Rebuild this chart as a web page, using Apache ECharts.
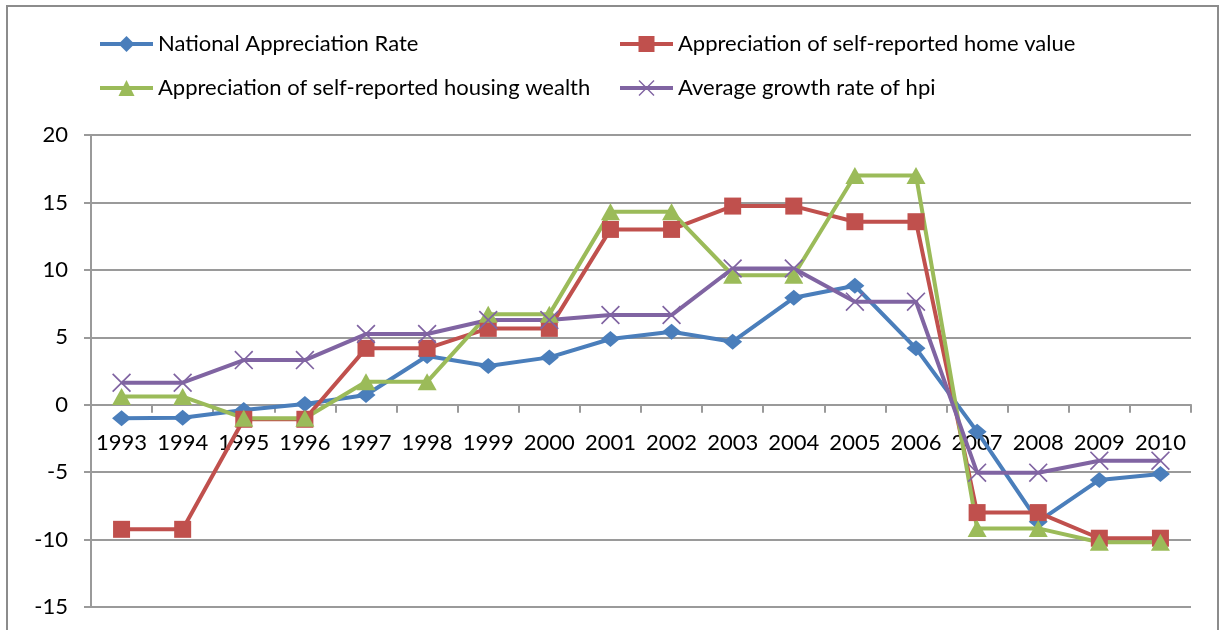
<!DOCTYPE html>
<html>
<head>
<meta charset="utf-8">
<script src="https://cdn.jsdelivr.net/npm/echarts@6/dist/echarts.min.js"></script>
<style>
  html, body { margin: 0; padding: 0; background: #fff; }
  #chart { width: 1224px; height: 630px; }
</style>
</head>
<body>
<div id="chart"></div>
<script>
// data
var years = ['1993', '1994', '1995', '1996', '1997', '1998', '1999', '2000', '2001',
             '2002', '2003', '2004', '2005', '2006', '2007', '2008', '2009', '2010'];
var nationalRate = [-1.0, -0.96, -0.4, 0.05, 0.72, 3.61, 2.87, 3.51, 4.87,
                    5.41, 4.67, 7.93, 8.82, 4.18, -2.0, -8.67, -5.58, -5.14];
var homeValue = [-9.24, -9.24, -1.08, -1.08, 4.18, 4.18, 5.66, 5.66, 13.0,
                 13.0, 14.73, 14.73, 13.57, 13.57, -8.0, -8.0, -9.9, -9.9];
var housingWealth = [0.6, 0.6, -1.0, -1.0, 1.7, 1.7, 6.7, 6.7, 14.3,
                     14.3, 9.6, 9.6, 17.0, 17.0, -9.17, -9.17, -10.2, -10.2];
var hpiGrowth = [1.63, 1.63, 3.31, 3.31, 5.24, 5.24, 6.28, 6.28, 6.65,
                 6.65, 10.1, 10.1, 7.64, 7.64, -5.04, -5.04, -4.15, -4.15];
var seriesNames = ['National Appreciation Rate', 'Appreciation of self-reported home value',
                   'Appreciation of self-reported housing wealth', 'Average growth rate of hpi'];

var font = 'Lato, "Liberation Sans", sans-serif';
var gridGray = '#9a9a9a';
var crossPath = 'path://M0,1L1,0L8,7L15,0L16,1L9,8L16,15L15,16L8,9L1,16L0,15L7,8Z';

var chart = echarts.init(document.getElementById('chart'));

function lineSeries(name, data, color, symbol, size) {
    return {
        name: name,
        type: 'line',
        data: data,
        xAxisIndex: 0,
        symbol: symbol,
        symbolSize: size,
        showAllSymbol: true,
        lineStyle: { color: color, width: 4 },
        itemStyle: { color: color },
        emphasis: { disabled: true },
        animation: false
    };
}

var legendCommon = {
    orient: 'vertical',
    top: 33,
    padding: 0,
    itemWidth: 53,
    itemHeight: 20,
    itemGap: 22,
    lineStyle: { width: 4 },
    textStyle: { fontFamily: font, fontSize: 22, color: '#000' },
    selectedMode: false
};

var option = {
    backgroundColor: '#fff',
    graphic: [{
        type: 'rect',
        shape: { x: 7, y: 6, width: 1211, height: 700 },
        style: { fill: 'none', stroke: '#8c8c8c', lineWidth: 2 },
        silent: true
    }],
    legend: [
        Object.assign({ left: 98, data: [seriesNames[0], seriesNames[2]] }, legendCommon),
        Object.assign({ left: 618, data: [seriesNames[1], seriesNames[3]] }, legendCommon)
    ],
    grid: { left: 91, right: 33, top: 135, bottom: 23, containLabel: false, outerBoundsMode: 'none' },
    xAxis: [{
        // axis line through zero with the ticks
        type: 'category',
        data: years,
        boundaryGap: true,
        axisLine: { onZero: true, lineStyle: { color: gridGray, width: 2 } },
        axisTick: { show: true, interval: 0, length: 8, lineStyle: { color: gridGray, width: 2 } },
        axisLabel: { show: false },
        splitLine: { show: false }
    }, {
        // labels only, lifted up to sit under the zero line
        type: 'category',
        data: years,
        position: 'bottom',
        offset: -202,
        boundaryGap: true,
        axisLine: { show: false },
        axisTick: { show: false },
        axisLabel: { interval: 0, margin: 27, color: '#000', fontFamily: font, fontSize: 22 },
        splitLine: { show: false }
    }],
    yAxis: {
        type: 'value',
        min: -15,
        max: 20,
        interval: 5,
        axisLine: { show: true, lineStyle: { color: gridGray, width: 2 } },
        axisTick: { show: true, length: 7, lineStyle: { color: gridGray, width: 2 } },
        axisLabel: { margin: 23, color: '#000', fontFamily: font, fontSize: 22 },
        splitLine: { show: true, lineStyle: { color: gridGray, width: 2 } }
    },
    series: [
        lineSeries(seriesNames[0], nationalRate, '#4a7ebb', 'diamond', [19, 16]),
        lineSeries(seriesNames[1], homeValue, '#c0504d', 'rect', [17, 17]),
        lineSeries(seriesNames[2], housingWealth, '#9bbb59', 'triangle', [19, 17]),
        lineSeries(seriesNames[3], hpiGrowth, '#8064a2', crossPath, [19, 19])
    ]
};

chart.setOption(option);
window.onresize = function () { chart.resize(); };
</script>
</body>
</html>
